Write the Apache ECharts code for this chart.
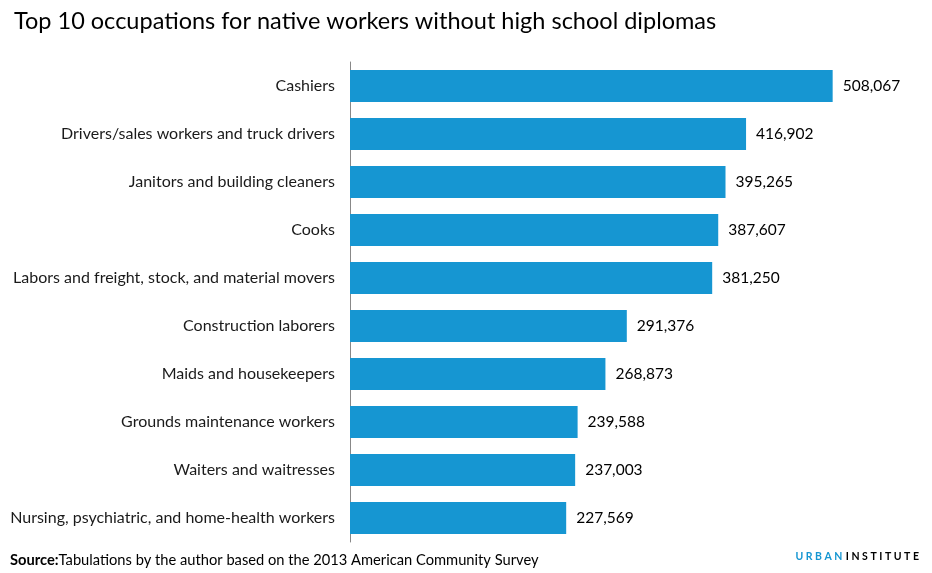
<!DOCTYPE html>
<html>
<head>
<meta charset="utf-8">
<script src="https://cdn.jsdelivr.net/npm/echarts@6/dist/echarts.min.js"></script>
<style>
html,body{margin:0;padding:0;background:#fff;}
#c{width:932px;height:573px;}
</style>
</head>
<body>
<div id="c"></div>
<script>
const categories = [
  "Cashiers",
  "Drivers/sales workers and truck drivers",
  "Janitors and building cleaners",
  "Cooks",
  "Labors and freight, stock, and material movers",
  "Construction laborers",
  "Maids and housekeepers",
  "Grounds maintenance workers",
  "Waiters and waitresses",
  "Nursing, psychiatric, and home-health workers"
];
const workers = [508067, 416902, 395265, 387607, 381250, 291376, 268873, 239588, 237003, 227569];

const chart = echarts.init(document.getElementById('c'), null, {renderer: 'canvas'});
const font = 'Lato, "Open Sans", sans-serif';
chart.setOption({
  animation: false,
  backgroundColor: '#fff',
  title: {
    text: 'Top 10 occupations for native workers without high school diplomas',
    left: 9, top: 4,
    textStyle: {fontFamily: font, fontSize: 23.5, fontWeight: 'normal', color: '#000'}
  },
  graphic: [
    {
      type: 'text', left: 10, top: 553,
      style: {
        text: '{b|Source:}Tabulations by the author based on the 2013 American Community Survey',
        rich: {
          b: {fontFamily: font, fontSize: 14.7, fontWeight: 'bold', fill: '#000'}
        },
        font: '14.7px ' + font, fill: '#000'
      }
    },
    {
      type: 'text', right: 13, top: 551,
      style: {
        text: '{u|U R B A N} {i|I N S T I T U T E}',
        rich: {
          u: {fontFamily: font, fontSize: 10.5, fontWeight: 'bold', fill: '#1696d2'},
          i: {fontFamily: font, fontSize: 10.5, fontWeight: 'bold', fill: '#000'}
        }
      }
    }
  ],
  grid: {left: 350, right: 12, top: 62, bottom: 31, containLabel: false},
  xAxis: {
    type: 'value', min: 0, max: 600000,
    show: false
  },
  yAxis: {
    type: 'category', inverse: true, data: categories,
    axisLine: {show: true, lineStyle: {color: '#888', width: 1}},
    axisTick: {show: false},
    axisLabel: {fontFamily: font, fontSize: 16, color: '#1a1a1a', margin: 15, padding: [2, 0, 0, 0]}
  },
  series: [{
    type: 'bar', data: workers, barWidth: 32,
    itemStyle: {color: '#1696d2'},
    label: {
      show: true, position: 'right', distance: 10,
      fontFamily: font, fontSize: 15.5, color: '#000', padding: [2, 0, 0, 0],
      formatter: p => p.value.toLocaleString('en-US')
    }
  }]
});
</script>
</body>
</html>
